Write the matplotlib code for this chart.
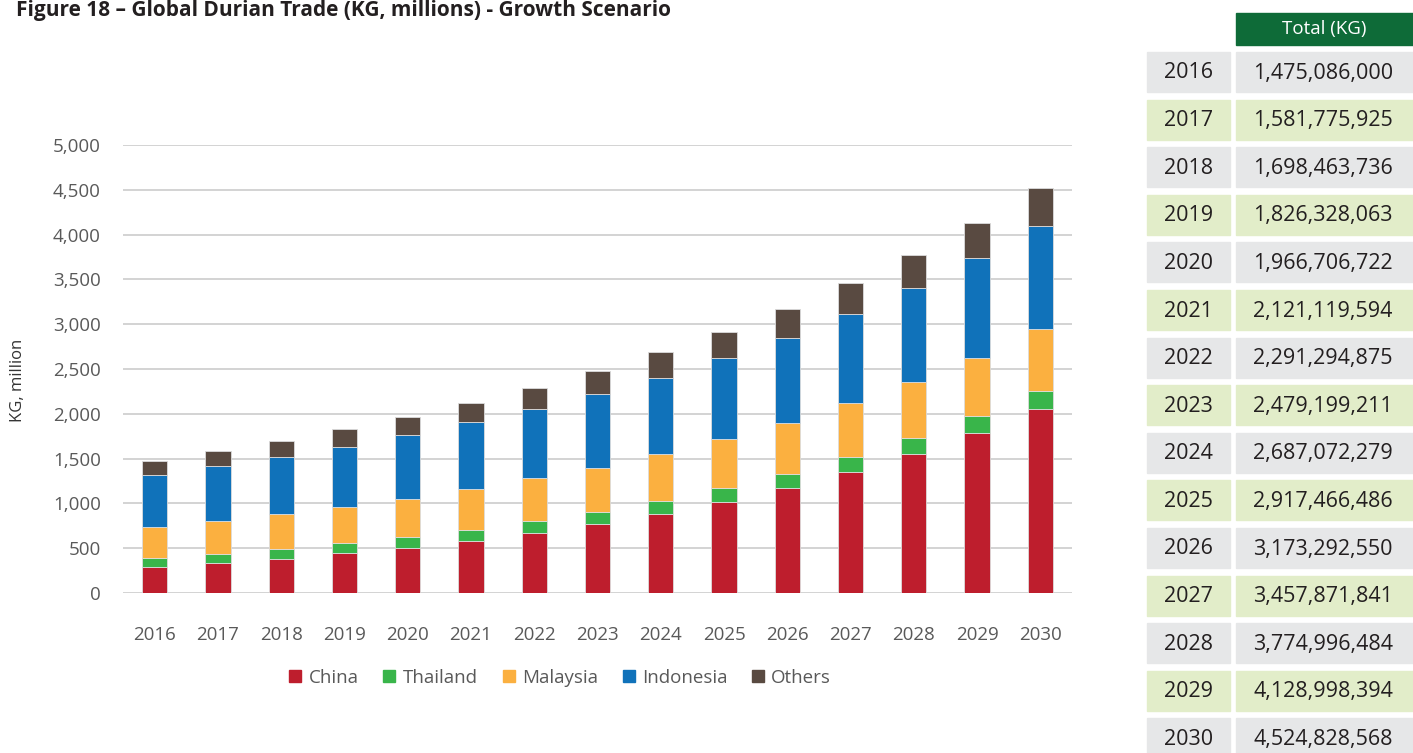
import matplotlib.pyplot as plt
import numpy as np
from matplotlib.patches import Rectangle
from matplotlib.lines import Line2D

plt.rcParams['font.family'] = ['Open Sans', 'DejaVu Sans']

# data, KG million
years = ['2016', '2017', '2018', '2019', '2020', '2021', '2022', '2023',
         '2024', '2025', '2026', '2027', '2028', '2029', '2030']
china = [287, 331, 383, 443, 506, 584, 673, 766, 881, 1011, 1167, 1346, 1546, 1781, 2056]
thailand = [103, 104, 111, 112, 122, 123, 134, 134, 149, 160, 164, 171, 183, 189, 197]
malaysia = [350, 365, 384, 405, 425, 454, 473, 498, 516, 543, 565, 598, 628, 658, 691]
indonesia = [580, 621, 643, 673, 707, 744, 777, 821, 859, 907, 955, 997, 1044, 1108, 1153]
others = [155, 161, 177, 193, 207, 216, 234, 260, 282, 296, 322, 346, 374, 393, 428]
totals = [1475086000, 1581775925, 1698463736, 1826328063, 1966706722, 2121119594,
          2291294875, 2479199211, 2687072279, 2917466486, 3173292550, 3457871841,
          3774996484, 4128998394, 4524828568]

series = [('China', china, '#be1e2d'), ('Thailand', thailand, '#39b54a'),
          ('Malaysia', malaysia, '#fbb040'), ('Indonesia', indonesia, '#1072ba'),
          ('Others', others, '#594a41')]

W, H = 1413, 753
fig = plt.figure(figsize=(W / 100, H / 100), dpi=100)
ax = fig.add_axes([123 / W, 1 - 593 / H, (1072 - 123) / W, (593 - 145) / H])

x = np.arange(len(years))
bottom = np.zeros(len(years))
for name, vals, col in series:
    ax.bar(x, vals, 0.4, bottom=bottom, color=col, edgecolor='#dcdcdc', linewidth=0.6, zorder=3)
    bottom += np.array(vals)

ax.set_xlim(-0.5, len(years) - 0.5)
ax.set_ylim(0, 5000)
ax.set_yticks(np.arange(0, 5001, 500))
ax.set_yticklabels(['{:,}'.format(v) for v in range(0, 5001, 500)])
ax.set_xticks(x)
ax.set_xticklabels(years)
ax.grid(axis='y', color='#d0d0d0', linewidth=1.3, zorder=0)
for s in ax.spines.values():
    s.set_visible(False)
ax.tick_params(length=0, labelsize=13.5, labelcolor='#595959')
ax.tick_params(axis='y', pad=16)
ax.tick_params(axis='x', pad=24)
fig.text(18 / W, 1 - 380 / H, 'KG, million', rotation=90, ha='center', va='center',
         fontsize=12, color='#333333')

# legend
handles = [Line2D([], [], marker='s', linestyle='none', markersize=8.5, color=c) for _, _, c in series]
fig.legend(handles, [n for n, _, _ in series], loc='center', ncol=5,
           bbox_to_anchor=(560 / W, 1 - 678 / H), frameon=False, fontsize=13.5,
           handlelength=0.7, handletextpad=0.35, columnspacing=1.3, labelcolor='#595959')

# title (at the very top, as in the source)
fig.text(16 / W, 1, 'Figure 18 \u2013 Global Durian Trade (KG, millions) - Growth Scenario',
         ha='left', va='top', fontsize=15, fontweight='bold', color='#231f20')

# total table on the right
def box(x0, y0, w, h, col):
    fig.patches.append(Rectangle((x0 / W, 1 - (y0 + h) / H), w / W, h / H,
                                 transform=fig.transFigure, color=col, zorder=1))

box(1236, 13, 177, 32, '#0e6b38')
fig.text((1236 + 1413) / 2 / W, 1 - 29 / H, 'Total (KG)', ha='center', va='center',
         fontsize=13.5, color='white')
for i, (yr, tot) in enumerate(zip(years, totals)):
    top = 52 + i * 47.6
    col = '#e6e7e8' if i % 2 == 0 else '#e2edc9'
    box(1147, top, 83, 40, col)
    box(1236, top, 177, 40, col)
    yc = 1 - (top + 21) / H
    fig.text(1188.5 / W, yc, yr, ha='center', va='center', fontsize=15.5, color='#231f20')
    fig.text(1323 / W, yc, '{:,}'.format(tot), ha='center', va='center', fontsize=15.5,
             color='#231f20')

fig.savefig('out.png', dpi=100)
